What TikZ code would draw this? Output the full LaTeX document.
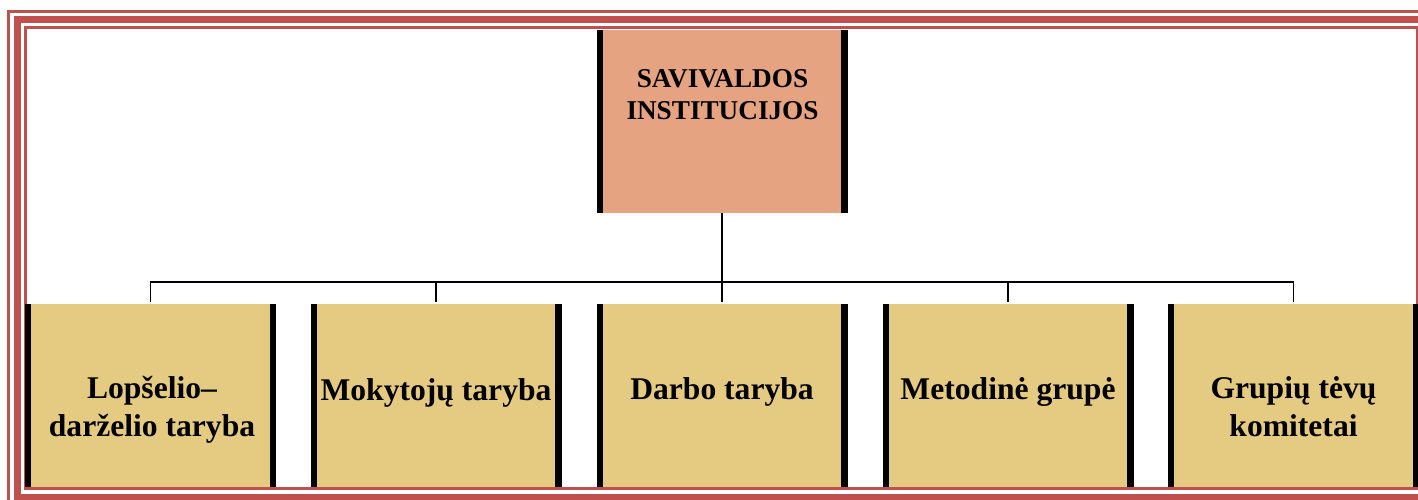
\documentclass[tikz,border=0pt]{standalone}
\usepackage{fontspec}
\setmainfont{Liberation Serif}
\definecolor{bordred}{HTML}{C0504D}
\definecolor{salmon}{HTML}{E5A382}
\definecolor{sand}{HTML}{E5CB82}
\begin{document}
\begin{tikzpicture}[x=1pt,y=-1pt,
  box/.style={inner sep=0pt, outer sep=0pt, minimum width=251pt},
  topbox/.style={box, fill=salmon, minimum height=182.7pt},
  subbox/.style={box, fill=sand, minimum height=183pt},
  bar/.style={line width=6.2pt, black},
  conn/.style={line width=1.9pt, black},
  toptext/.style={font=\bfseries\fontsize{27.2}{32}\selectfont, anchor=base, inner sep=0pt},
  subtext/.style={font=\bfseries\fontsize{31.6}{38}\selectfont, anchor=base, inner sep=0pt},
  thinline/.style={draw=bordred, line width=2.8pt},
  thickline/.style={draw=bordred, line width=6.7pt}]

\useasboundingbox (0,0) rectangle (1418,500);
\fill[white] (0,0) rectangle (1418,500);

% page border (cropped at right and bottom)
\begin{scope}
  \clip (0,0) rectangle (1418,500);
  \path[thinline] (8.7,11.2) rectangle (1434,506);
  \path[thickline] (17.3,19.3) rectangle (1425.7,497.3);
  \path[thinline] (25.3,27.7) rectangle (1417.2,488.6);
\end{scope}

% boxes
\node[topbox] (top) at (722,121.3) {};
\node[subbox] (b1) at (150.5,395.5) {};
\node[subbox] (b2) at (436,395.5) {};
\node[subbox] (b3) at (722,395.5) {};
\node[subbox] (b4) at (1008,395.5) {};
\node[subbox] (b5) at (1293.5,395.5) {};

\foreach \n in {top,b1,b2,b3,b4,b5} {
  \draw[bar] ([xshift=3.1pt]\n.north west) -- ([xshift=3.1pt]\n.south west);
  \draw[bar] ([xshift=-3.1pt]\n.north east) -- ([xshift=-3.1pt]\n.south east);
}

% texts
\node[toptext] (t0) at (722.5,88) {\begin{tabular}[t]{@{}c@{}}SAVIVALDOS\\INSTITUCIJOS\end{tabular}};
\node[subtext] (t1) at (152,398.5) {\begin{tabular}[t]{@{}c@{}}Lopšelio–\\darželio taryba\end{tabular}};
\node[subtext] (t2) at (436,400) {Mokytojų taryba};
\node[subtext] (t3) at (722,399.5) {Darbo taryba};
\node[subtext] (t4) at (1008,399.5) {Metodinė grupė};
\node[subtext] (t5) at (1293.5,398.5) {\begin{tabular}[t]{@{}c@{}}Grupių tėvų\\komitetai\end{tabular}};

% connectors
\coordinate (hub) at (722,282.3);
\draw[conn] (top.south) -- ([yshift=2pt]b3.north);
\foreach \n in {b1,b2,b4,b5} {
  \draw[conn] (hub) -| ([yshift=2pt]\n.north);
}
\end{tikzpicture}
\end{document}
